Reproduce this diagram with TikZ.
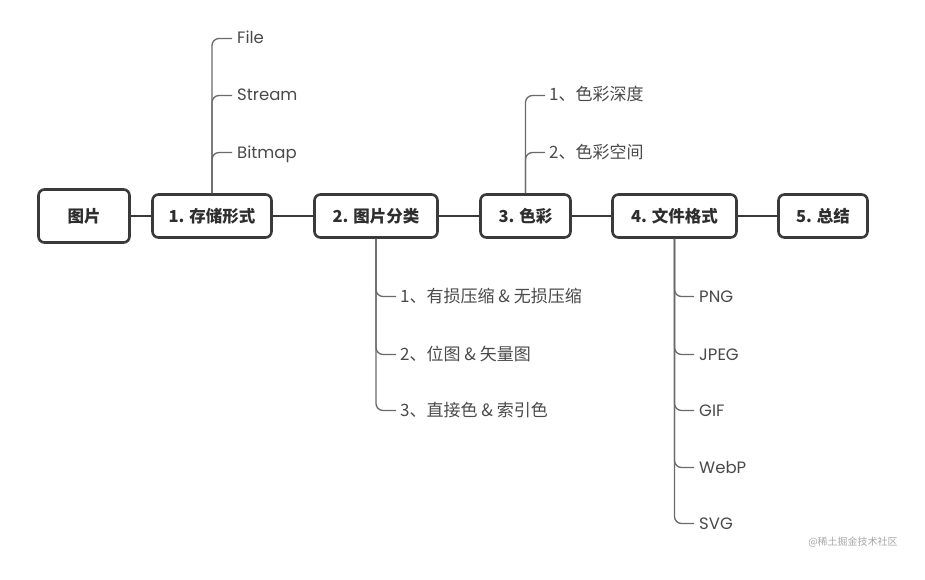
\documentclass[tikz,border=0pt]{standalone}
\usepackage{fontspec}
\setmainfont{Poppins}
\newfontfamily\cjk{Noto Sans CJK SC}
\definecolor{boxc}{HTML}{3A3A3C}
\definecolor{brc}{HTML}{6A6A6A}
\definecolor{txt}{HTML}{2E2E2E}
\definecolor{leafc}{HTML}{4A4A4A}
\definecolor{wm}{HTML}{A8A8A8}
\tikzset{
  box/.style={draw=boxc, line width=2.6pt, rounded corners=6pt, fill=white,
    minimum height=43pt, inner xsep=12pt, font=\cjk\bfseries\fontsize{16.5}{18}\selectfont, text=txt},
  link/.style={draw=boxc, line width=2.6pt},
  branch/.style={draw=brc, line width=1.3pt, rounded corners=7pt},
  leaf/.style={anchor=west, inner sep=0pt, text height=11pt, text depth=0pt, text=leafc,
    font=\fontsize{16.5}{18}\selectfont},
  cleaf/.style={leaf, font=\cjk\fontsize{17}{18}\selectfont}
}
\begin{document}
\begin{tikzpicture}[x=1pt,y=-1pt]
\useasboundingbox[fill=white] (0,0) rectangle (925,580);
% main nodes
\node[box, minimum width=91pt, minimum height=53pt] (root) at (84,216) {图片};
\node[box, minimum width=119pt] (n1) at (212,216) {1. 存储形式};
\node[box, minimum width=123pt] (n2) at (376,216) {2. 图片分类};
\node[box, minimum width=90pt] (n3) at (525.5,216) {3. 色彩};
\node[box, minimum width=124pt] (n4) at (674.5,216) {4. 文件格式};
\node[box, minimum width=89pt] (n5) at (823,216) {5. 总结};
% links
\draw[link] (root) -- (n1);
\draw[link] (n1) -- (n2);
\draw[link] (n2) -- (n3);
\draw[link] (n3) -- (n4);
\draw[link] (n4) -- (n5);
% branch 1
\node[leaf] (file) at (237,38.5) {File};
\node[leaf] (stream) at (237,95.5) {Stream};
\node[leaf] (bitmap) at (237,152.5) {Bitmap};
\foreach \t in {file,stream,bitmap}
  \draw[branch] (n1.north) |- ([xshift=-5pt]\t.west);
% branch 3
\node[cleaf] (depth) at (549,95.5) {1、色彩深度};
\node[cleaf] (space) at (549,152.5) {2、色彩空间};
\foreach \t in {depth,space}
  \draw[branch] (n3.north) |- ([xshift=-4pt]\t.west);
% branch 2
\node[cleaf] (c1) at (400,296.5) {1、有损压缩\ \& 无损压缩};
\node[cleaf] (c2) at (400,354.5) {2、位图\ \& 矢量图};
\node[cleaf] (c3) at (400,410.5) {3、直接色\ \& 索引色};
\foreach \t in {c1,c2,c3}
  \draw[branch] (n2.south) |- ([xshift=-4pt]\t.west);
% branch 4
\node[leaf] (png) at (699,296.5) {PNG};
\node[leaf] (jpeg) at (699,354.5) {JPEG};
\node[leaf] (gif) at (699,410.5) {GIF};
\node[leaf] (webp) at (699,467.5) {WebP};
\node[leaf] (svg) at (699,523.5) {SVG};
\foreach \t in {png,jpeg,gif,webp,svg}
  \draw[branch] (n4.south) |- ([xshift=-5pt]\t.west);
% watermark
\node[text=wm, font=\cjk\fontsize{10}{12}\selectfont, inner sep=0pt] (wmark) at (853,542) {@稀土掘金技术社区};
\end{tikzpicture}
\end{document}
